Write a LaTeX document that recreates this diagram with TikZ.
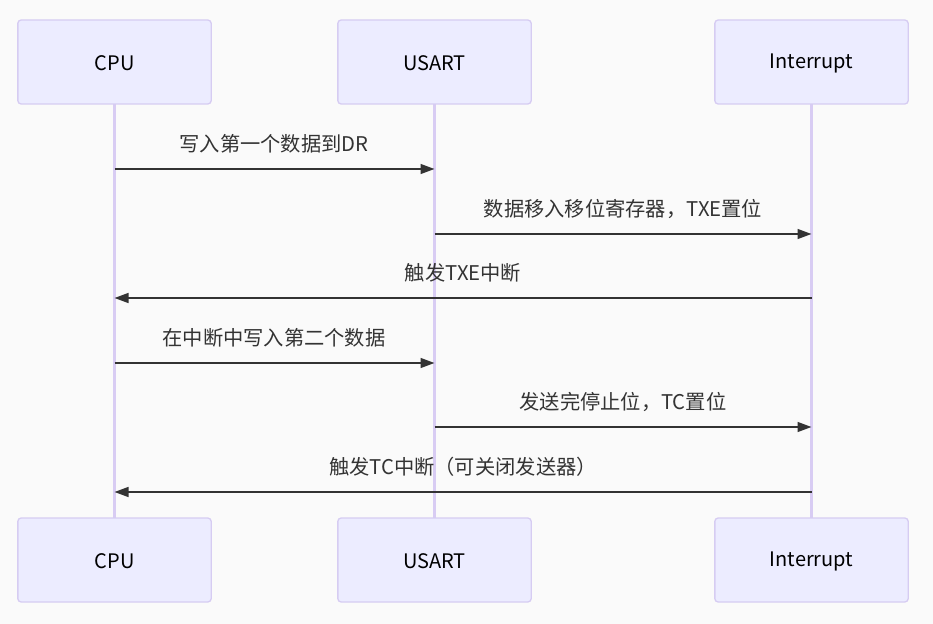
\documentclass[tikz,border=0pt]{standalone}
\usepackage{fontspec}
\setmainfont{Noto Sans CJK SC}
\usetikzlibrary{arrows.meta}
\definecolor{bg}{HTML}{FAFAFA}
\definecolor{actfill}{HTML}{ECECFF}
\definecolor{actline}{HTML}{D6CCF2}
\definecolor{life}{HTML}{D8CCF3}
\definecolor{txt}{HTML}{333333}
\tikzset{
  actor/.style={draw=actline, fill=actfill, line width=1pt, rounded corners=2.5pt,
    minimum width=145pt, minimum height=63pt, inner sep=0pt},
  actortext/.style={text=black, inner sep=0pt, font=\fontsize{15pt}{16pt}\selectfont},
  lifeline/.style={draw=life, line width=1.6pt},
  msg/.style={draw=txt, line width=1.1pt, -{Triangle[length=10.5pt,width=7.5pt]}},
  lbl/.style={text=txt, inner sep=0pt, font=\fontsize{15.2pt}{16pt}\selectfont}
}
\begin{document}
\begin{tikzpicture}[x=0.75pt,y=-0.75pt]
\useasboundingbox[fill=bg] (0,0) rectangle (933,624);
% lifelines (drawn first)
\coordinate (cpuT) at (114.5,104);
\coordinate (cpuB) at (114.5,518);
\coordinate (usT) at (434.5,104);
\coordinate (usB) at (434.5,518);
\coordinate (inT) at (811.5,104);
\coordinate (inB) at (811.5,518);
\draw[lifeline] (cpuT) -- (cpuB);
\draw[lifeline] (usT) -- (usB);
\draw[lifeline] (inT) -- (inB);
% actors
\node[actor] (cpu1) at (114.5,62) {};
\node[actor] (us1) at (434.5,62) {};
\node[actor] (in1) at (811.5,62) {};
\node[actor] (cpu2) at (114.5,560) {};
\node[actor] (us2) at (434.5,560) {};
\node[actor] (in2) at (811.5,560) {};
\foreach \a/\t in {cpu1/CPU,us1/USART,in1/Interrupt,cpu2/CPU,us2/USART,in2/Interrupt}{
  \node[actortext] (\a-t) at ([yshift=-1.2pt]\a.center) {\t};
}
% message anchors
\foreach \n/\y in {1/169,2/234,3/298,4/363,5/427,6/492}{
  \coordinate (c\n) at (114.5,\y);
  \coordinate (u\n) at (434.5,\y);
  \coordinate (i\n) at (811.5,\y);
}
\draw[msg] (c1) -- (u1);
\draw[msg] (u2) -- (i2);
\draw[msg] (i3) -- (c3);
\draw[msg] (c4) -- (u4);
\draw[msg] (u5) -- (i5);
\draw[msg] (i6) -- (c6);
% labels
\node[lbl] (l1) at (274,144) {写入第一个数据到DR};
\node[lbl] (l2) at (623,209) {数据移入移位寄存器，TXE置位};
\node[lbl] (l3) at (463,273) {触发TXE中断};
\node[lbl] (l4) at (274,338) {在中断中写入第二个数据};
\node[lbl] (l5) at (623,402) {发送完停止位，TC置位};
\node[lbl] (l6) at (463,467) {触发TC中断（可关闭发送器）};
\end{tikzpicture}
\end{document}
